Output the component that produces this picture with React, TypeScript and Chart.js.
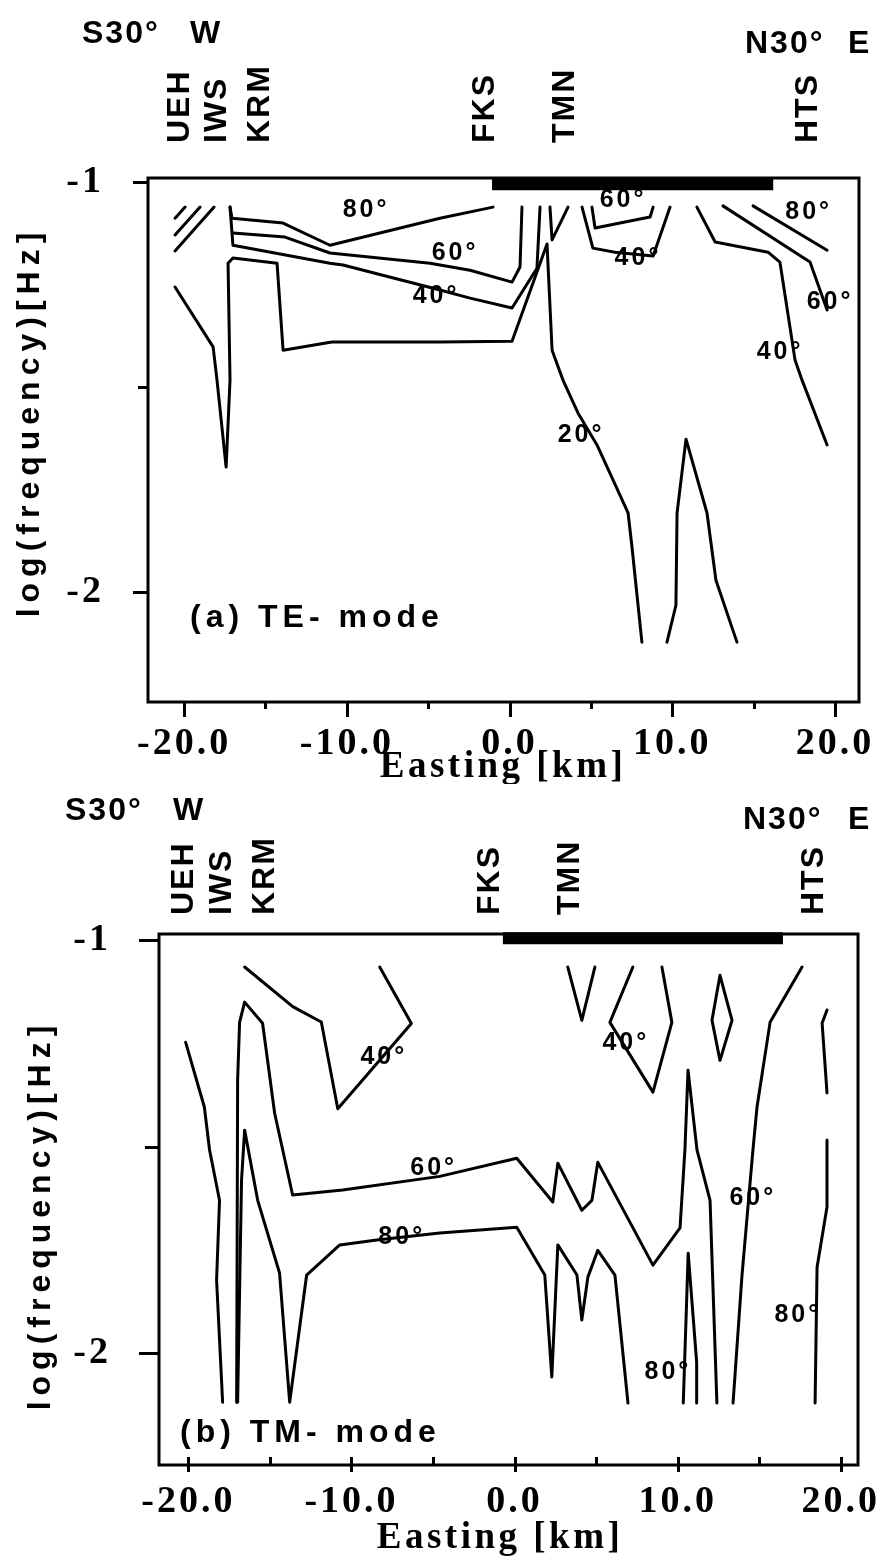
import React, { useEffect, useRef } from "react";
import { Chart, registerables } from "chart.js";

Chart.register(...registerables);

type Pt = [number, number];

// ---------- shared axis values ----------
const X_MAJOR_TICKS = [-20, -10, 0, 10, 20];
const X_MINOR_TICKS = [-15, -5, 5, 15];
const Y_MAJOR_TICKS = [-2, -1];
const Y_MINOR_TICKS = [-1.5];
const STATIONS = ["UEH", "IWS", "KRM", "FKS", "TMN", "HTS"];
const STATION_EASTING = [-20.25, -17.95, -15.3, -1.5, 3.4, 18.35];

// ---------- (a) TE-mode contours [easting km, log10 f] ----------
const TE_X_RANGE = [-22.22, 21.47];
const TE_Y_RANGE = [-2.268, -0.99];
const TE_HATCH_1: Pt[] = [[-20.56, -1.088], [-19.94, -1.061]];
const TE_HATCH_2: Pt[] = [[-20.56, -1.129], [-19.02, -1.061]];
const TE_HATCH_3: Pt[] = [[-20.56, -1.168], [-18.16, -1.061]];
const TE_80: Pt[] = [[-17.18, -1.061], [-17.06, -1.088], [-13.92, -1.1], [-11.04, -1.154], [-4.28, -1.088], [-1.02, -1.061]];
const TE_60: Pt[] = [[-17.0, -1.124], [-13.8, -1.134], [-11.04, -1.173], [-4.89, -1.198], [-2.43, -1.215], [0.15, -1.244], [0.64, -1.207], [0.76, -1.061]];
const TE_40: Pt[] = [[-17.18, -1.061], [-17.0, -1.154], [-11.04, -1.198], [-10.24, -1.202], [-4.28, -1.263], [-2.43, -1.283], [0.15, -1.307], [1.68, -1.21], [1.87, -1.061]];
const TE_20: Pt[] = [[-20.56, -1.256], [-18.22, -1.402], [-17.98, -1.483], [-17.42, -1.695], [-17.18, -1.483], [-17.3, -1.198], [-17.0, -1.185], [-14.29, -1.198], [-13.92, -1.41], [-10.92, -1.39], [-4.28, -1.39], [0.15, -1.388], [2.3, -1.151], [2.61, -1.41], [3.28, -1.483], [4.2, -1.563], [5.37, -1.641], [7.28, -1.807], [7.52, -1.89], [8.13, -2.122]];
const TE_V: Pt[] = [[2.48, -1.061], [2.61, -1.141], [3.59, -1.061]];
const TE_60_MID: Pt[] = [[5.06, -1.061], [5.25, -1.112], [8.63, -1.085], [8.82, -1.061]];
const TE_40_MID: Pt[] = [[4.45, -1.061], [5.12, -1.161], [6.47, -1.171], [8.82, -1.18], [9.86, -1.061]];
const TE_20_TONGUE: Pt[] = [[9.67, -2.122], [10.22, -2.032], [10.29, -1.807], [10.84, -1.627], [12.13, -1.807], [12.68, -1.971], [13.97, -2.122]];
const TE_40_EAST: Pt[] = [[11.51, -1.061], [12.63, -1.146], [15.88, -1.171], [16.61, -1.195], [17.54, -1.434], [17.97, -1.483], [19.51, -1.641]];
const TE_60_EAST: Pt[] = [[13.11, -1.058], [18.46, -1.195], [19.51, -1.312]];
const TE_80_EAST: Pt[] = [[14.96, -1.058], [19.51, -1.166]];
const TE_BAR: Pt[] = [[-1.08, -1.005], [16.2, -1.005]];
const TE_LABEL_TEXT = ["80°", "60°", "40°", "60°", "40°", "80°", "60°", "40°", "20°"];
const TE_LABEL_X = [-8.82, -3.35, -4.52, 6.97, 7.89, 18.38, 19.69, 16.62, 4.39];
const TE_LABEL_Y = [-1.068, -1.173, -1.278, -1.044, -1.185, -1.073, -1.293, -1.415, -1.617];

// ---------- (b) TM-mode contours ----------
const TM_X_RANGE = [-21.8, 21.05];
const TM_Y_RANGE = [-2.271, -0.985];
const TM_40_WEST: Pt[] = [[-16.55, -1.065], [-13.6, -1.161], [-11.85, -1.198], [-10.84, -1.408], [-6.33, -1.202], [-8.27, -1.065]];
const TM_EDGE: Pt[] = [[-20.17, -1.247], [-19.02, -1.404], [-18.7, -1.508], [-18.09, -1.63], [-18.27, -1.823], [-17.9, -2.119]];
const TM_60: Pt[] = [[-17.04, -2.119], [-16.98, -1.339], [-16.86, -1.199], [-16.55, -1.15], [-15.45, -1.201], [-14.71, -1.419], [-13.61, -1.617], [-10.54, -1.605], [-4.59, -1.572], [0.13, -1.528], [2.34, -1.634], [2.65, -1.54], [4.12, -1.654], [4.74, -1.63], [5.1, -1.538], [8.48, -1.787], [10.14, -1.697], [10.44, -1.508], [10.63, -1.315], [11.18, -1.508], [11.98, -1.63], [12.4, -2.121]];
const TM_80: Pt[] = [[-16.98, -2.119], [-16.74, -1.581], [-16.55, -1.46], [-15.75, -1.63], [-14.41, -1.806], [-13.79, -2.119], [-12.75, -1.811], [-10.72, -1.738], [-8.45, -1.726], [-4.59, -1.709], [0.13, -1.695], [1.85, -1.811], [2.28, -2.058], [2.65, -1.738], [3.82, -1.811], [4.12, -1.92], [4.49, -1.816], [5.1, -1.751], [6.15, -1.811], [6.95, -2.121]];
const TM_80_SPIKE: Pt[] = [[10.34, -2.121], [10.64, -1.758], [11.16, -2.022], [11.16, -2.121]];
const TM_V: Pt[] = [[3.26, -1.065], [4.12, -1.194], [4.92, -1.065]];
const TM_40_EAST: Pt[] = [[7.25, -1.065], [5.84, -1.199], [8.48, -1.368], [9.64, -1.199], [9.03, -1.065]];
const TM_DIAMOND: Pt[] = [[12.59, -1.085], [12.1, -1.194], [12.59, -1.291], [13.33, -1.194], [12.59, -1.085]];
const TM_60_EAST: Pt[] = [[13.39, -2.121], [13.94, -1.811], [14.61, -1.508], [14.86, -1.404], [15.66, -1.199], [17.62, -1.065]];
const TM_80_EAST: Pt[] = [[18.42, -2.121], [18.54, -1.792], [19.15, -1.646], [19.15, -1.484]];
const TM_80_EAST_TOP: Pt[] = [[19.15, -1.37], [18.85, -1.201], [19.15, -1.169]];
const TM_BAR: Pt[] = [[-0.72, -0.995], [16.45, -0.995]];
const TM_LABEL_TEXT = ["40°", "60°", "80°", "40°", "60°", "80°", "80°"];
const TM_LABEL_X = [-8.02, -4.96, -6.92, 6.82, 14.6, 17.36, 9.4];
const TM_LABEL_Y = [-1.283, -1.552, -1.719, -1.249, -1.625, -1.908, -2.046];

// ---------- styling / layout ----------
const INK = "#000";
const SANS = '"Liberation Sans", Arial, Helvetica, sans-serif';
const SERIF = '"Liberation Serif", "Times New Roman", serif';
const W = 881;

interface PanelSpec {
  key: string;
  top: number;
  height: number;
  area: { left: number; top: number; right: number; bottom: number };
  xRange: number[];
  yRange: number[];
  lines: Pt[][];
  bar: Pt[];
  labelText: string[];
  labelX: number[];
  labelY: number[];
  title: string;
  titlePos: [number, number];
  yTitlePos: [number, number];
  xTitlePos: [number, number];
  west: [number, number, number];
  east: [number, number, number];
  stationBottom: number;
  xTickPad: number;
  yTickPad: number;
  tick: { xMaj: [number, number]; xMin: [number, number]; yMaj: [number, number]; yMin: [number, number] };
}

const PANELS: PanelSpec[] = [
  {
    key: "te",
    top: 0,
    height: 784,
    area: { left: 148, top: 178, right: 859, bottom: 702 },
    xRange: TE_X_RANGE,
    yRange: TE_Y_RANGE,
    lines: [TE_HATCH_1, TE_HATCH_2, TE_HATCH_3, TE_80, TE_60, TE_40, TE_20, TE_V, TE_60_MID, TE_40_MID, TE_20_TONGUE, TE_40_EAST, TE_60_EAST, TE_80_EAST],
    bar: TE_BAR,
    labelText: TE_LABEL_TEXT,
    labelX: TE_LABEL_X,
    labelY: TE_LABEL_Y,
    title: "(a) TE- mode",
    titlePos: [190, 618],
    yTitlePos: [30, 422],
    xTitlePos: [503, 767],
    west: [82, 190, 34],
    east: [745, 848, 44],
    stationBottom: 143,
    xTickPad: 15,
    yTickPad: 36,
    tick: { xMaj: [0, 15], xMin: [0, 7], yMaj: [0, 15], yMin: [0, 10] },
  },
  {
    key: "tm",
    top: 784,
    height: 783,
    area: { left: 159, top: 150, right: 858, bottom: 681 },
    xRange: TM_X_RANGE,
    yRange: TM_Y_RANGE,
    lines: [TM_40_WEST, TM_EDGE, TM_60, TM_80, TM_80_SPIKE, TM_V, TM_40_EAST, TM_DIAMOND, TM_60_EAST, TM_80_EAST, TM_80_EAST_TOP],
    bar: TM_BAR,
    labelText: TM_LABEL_TEXT,
    labelX: TM_LABEL_X,
    labelY: TM_LABEL_Y,
    title: "(b) TM- mode",
    titlePos: [180, 649],
    yTitlePos: [41, 431],
    xTitlePos: [500, 754],
    west: [65, 173, 27],
    east: [743, 848, 36],
    stationBottom: 131,
    xTickPad: 10,
    yTickPad: 40,
    tick: { xMaj: [8, 7], xMin: [8, 0], yMaj: [0, 20], yMin: [0, 14] },
  },
];

function drawText(
  ctx: CanvasRenderingContext2D,
  s: string,
  x: number,
  y: number,
  font: string,
  align: CanvasTextAlign,
  spacing: number,
  rotate = 0
) {
  ctx.save();
  ctx.translate(x, y);
  if (rotate) ctx.rotate(rotate);
  ctx.font = font;
  ctx.textAlign = align;
  ctx.textBaseline = "middle";
  (ctx as any).letterSpacing = spacing + "px";
  ctx.fillStyle = INK;
  ctx.fillText(s, 0, 0);
  ctx.restore();
}

function makeDecor(p: PanelSpec) {
  return {
    id: "decor-" + p.key,
    beforeDraw(chart: any) {
      // widen the serif tick labels like the printed original
      (chart.ctx as any).letterSpacing = "3px";
    },
    afterDraw(chart: any) {
      const ctx: CanvasRenderingContext2D = chart.ctx;
      (ctx as any).letterSpacing = "0px";
      const { left, top, right, bottom } = chart.chartArea;
      const xs = chart.scales.x;
      const ys = chart.scales.y;
      ctx.save();
      ctx.strokeStyle = INK;
      ctx.lineWidth = 3;
      ctx.lineCap = "butt";
      ctx.strokeRect(left, top, right - left, bottom - top);
      ctx.beginPath();
      const xt = (vals: number[], len: [number, number]) => {
        for (const v of vals) {
          const px = Math.round(xs.getPixelForValue(v)) + 0.5;
          ctx.moveTo(px, bottom - len[0]);
          ctx.lineTo(px, bottom + len[1]);
        }
      };
      const yt = (vals: number[], len: [number, number]) => {
        for (const v of vals) {
          const py = Math.round(ys.getPixelForValue(v)) + 0.5;
          ctx.moveTo(left + len[0], py);
          ctx.lineTo(left - len[1], py);
        }
      };
      xt(X_MAJOR_TICKS, p.tick.xMaj);
      xt(X_MINOR_TICKS, p.tick.xMin);
      yt(Y_MAJOR_TICKS, p.tick.yMaj);
      yt(Y_MINOR_TICKS, p.tick.yMin);
      ctx.stroke();
      ctx.restore();

      // contour labels
      p.labelText.forEach((t, i) => {
        drawText(ctx, t, xs.getPixelForValue(p.labelX[i]), ys.getPixelForValue(p.labelY[i]), `bold 25px ${SANS}`, "center", 3);
      });
      // station names (vertical)
      STATIONS.forEach((s, i) => {
        drawText(ctx, s, xs.getPixelForValue(STATION_EASTING[i]), p.stationBottom, `bold 32px ${SANS}`, "left", 2, -Math.PI / 2);
      });
      // profile directions
      drawText(ctx, "S30°", p.west[0], p.west[2], `bold 32px ${SANS}`, "left", 2);
      drawText(ctx, "W", p.west[1], p.west[2], `bold 32px ${SANS}`, "left", 0);
      drawText(ctx, "N30°", p.east[0], p.east[2], `bold 32px ${SANS}`, "left", 2);
      drawText(ctx, "E", p.east[1], p.east[2], `bold 32px ${SANS}`, "left", 0);
      // panel label
      drawText(ctx, p.title, p.titlePos[0], p.titlePos[1], `bold 32px ${SANS}`, "left", 5);
      // axis titles
      drawText(ctx, "log(frequency)[Hz]", p.yTitlePos[0], p.yTitlePos[1], `bold 32px ${SANS}`, "center", 6, -Math.PI / 2);
      drawText(ctx, "Easting [km]", p.xTitlePos[0], p.xTitlePos[1], `bold 37px ${SERIF}`, "center", 3.5);
    },
  };
}

function Panel({ spec }: { spec: PanelSpec }) {
  const ref = useRef<HTMLCanvasElement>(null);
  useEffect(() => {
    if (!ref.current) return;
    const toXY = (pts: Pt[]) => pts.map(([x, y]) => ({ x, y }));
    const datasets: any[] = spec.lines.map((pts) => ({
      data: toXY(pts),
      showLine: true,
      borderColor: INK,
      borderWidth: 3,
      pointRadius: 0,
      tension: 0,
      fill: false,
      borderJoinStyle: "round",
      borderCapStyle: "round",
    }));
    datasets.push({
      data: toXY(spec.bar),
      showLine: true,
      borderColor: INK,
      borderWidth: 12,
      pointRadius: 0,
      fill: false,
      borderCapStyle: "butt",
      clip: 20,
    });
    const a = spec.area;
    const chart = new Chart(ref.current, {
      type: "scatter",
      data: { datasets },
      options: {
        animation: false,
        responsive: false,
        devicePixelRatio: 1,
        events: [],
        layout: { padding: { left: 0, top: a.top, right: W - a.right, bottom: 0 } },
        plugins: { legend: { display: false }, tooltip: { enabled: false }, title: { display: false } },
        scales: {
          x: {
            type: "linear",
            position: "bottom",
            min: spec.xRange[0],
            max: spec.xRange[1],
            afterBuildTicks: (s: any) => {
              s.ticks = X_MAJOR_TICKS.map((v) => ({ value: v }));
            },
            afterFit: (s: any) => {
              s.height = spec.height - a.bottom;
              s.paddingLeft = 0;
              s.paddingRight = 0;
            },
            ticks: {
              callback: (v: any) => Number(v).toFixed(1),
              font: { family: SERIF, size: 38, weight: "bold", lineHeight: 1 },
              color: INK,
              padding: spec.xTickPad,
              autoSkip: false,
              maxRotation: 0,
              minRotation: 0,
            },
            grid: { display: false },
            border: { display: false },
          },
          y: {
            type: "linear",
            position: "left",
            min: spec.yRange[0],
            max: spec.yRange[1],
            afterBuildTicks: (s: any) => {
              s.ticks = Y_MAJOR_TICKS.map((v) => ({ value: v }));
            },
            afterFit: (s: any) => {
              s.width = a.left;
              s.paddingTop = 0;
              s.paddingBottom = 0;
            },
            ticks: {
              callback: (v: any) => String(v),
              font: { family: SERIF, size: 38, weight: "bold", lineHeight: 1 },
              color: INK,
              padding: spec.yTickPad,
              autoSkip: false,
            },
            grid: { display: false },
            border: { display: false },
          },
        },
      } as any,
      plugins: [makeDecor(spec) as any],
    });
    return () => chart.destroy();
  }, [spec]);
  return (
    <canvas
      ref={ref}
      width={W}
      height={spec.height}
      style={{ position: "absolute", left: 0, top: spec.top, width: W, height: spec.height, display: "block" }}
    />
  );
}

export default function App() {
  useEffect(() => {
    document.body.style.margin = "0";
  }, []);
  return (
    <div style={{ position: "absolute", left: 0, top: 0, width: W, height: 1567, background: "#fff", overflow: "hidden" }}>
      {PANELS.map((p) => (
        <Panel key={p.key} spec={p} />
      ))}
    </div>
  );
}
